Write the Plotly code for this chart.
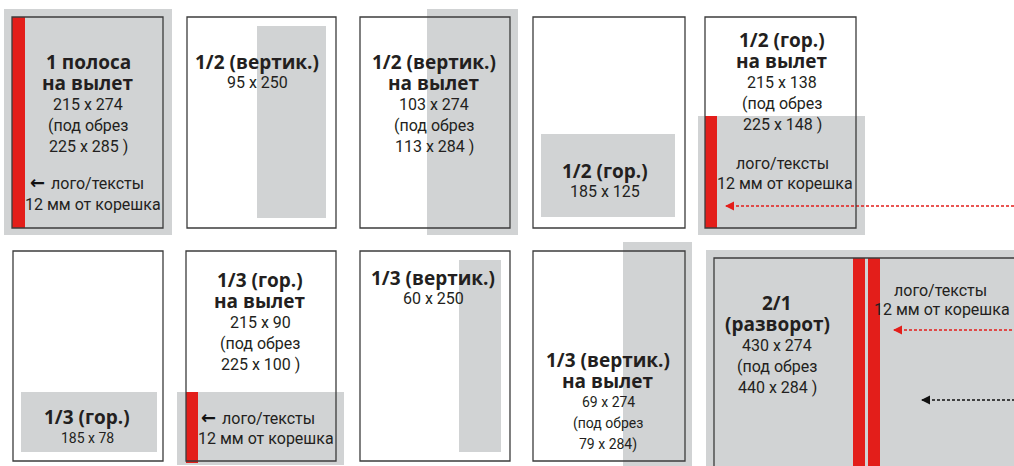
import plotly.graph_objects as go

W, H = 1014, 466
GRAY = "#d1d3d4"
RED = "#e31e1a"
LINE = "#3c3c3c"
TXT = "#231f20"
BOLD_FONT = "Open Sans, DejaVu Sans, sans-serif"
COND_FONT = "Roboto, Liberation Sans Narrow, sans-serif"
ARROW_FONT = "DejaVu Sans, sans-serif"

# ---- content (labels) ----
titles = [
    ["1 полоса", "на вылет"],
    ["1/2 (вертик.)"],
    ["1/2 (вертик.)", "на вылет"],
    ["1/2 (гор.)"],
    ["1/2 (гор.)", "на вылет"],
    ["1/3 (гор.)"],
    ["1/3 (гор.)", "на вылет"],
    ["1/3 (вертик.)"],
    ["1/3 (вертик.)", "на вылет"],
    ["2/1", "(разворот)"],
]
sizes = [
    ["215 x 274", "(под обрез", "225 x 285 )"],
    ["95 x 250"],
    ["103 x 274", "(под обрез", "113 x 284 )"],
    ["185 x 125"],
    ["215 x 138", "(под обрез", "225 x 148 )"],
    ["185 x 78"],
    ["215 x 90", "(под обрез", "225 x 100 )"],
    ["60 x 250"],
    ["69 x 274", "(под обрез", "79 x 284)"],
    ["430 x 274", "(под обрез", "440 x 284 )"],
]
spine_note = ["лого/тексты", "12 мм от корешка"]

# ---- layout geometry (pixels) ----
frames = [(12, 17, 163, 228), (187, 17, 336, 228), (360, 17, 510, 228),
          (533, 17, 685, 228), (705, 17, 856, 228),
          (13, 251, 163, 461), (186, 251, 336, 461), (360, 251, 510, 461),
          (533, 251, 685, 461), (714, 258, 1030, 480)]
grays = [(4, 9, 172, 235), (257, 26, 326, 218), (427, 9, 518, 235),
         (541, 134, 675, 217), (698, 116, 865, 235),
         (21, 392, 157, 452), (177, 392, 344, 465), (459, 260, 501, 452),
         (623, 242, 692, 470), (706, 250, 1020, 470)]
reds = [(12, 17, 25, 228), (705, 116, 717, 228), (186, 392, 198, 463),
        (853, 258, 865, 470), (868, 258, 880, 470)]
title_pos = [(88, 62), (257, 62), (434, 62), (605, 171), (782, 40),
             (87, 417), (260, 280), (433, 278), (608, 360), (777, 303)]
size_font = [16, 16, 16, 16, 16, 14, 16, 16, 14, 16]
# note lines: (x, y, xanchor)
note_pos = [((97, 183, "center"), (93, 204, "center")),
            ((782, 163, "center"), (785, 183, "center")),
            ((268, 418, "center"), (266, 438, "center")),
            ((940, 290, "center"), (1012, 309, "right"))]
arrow_pos = [(37, 182), (208, 417)]
dashed = [((722, 206), (1014, 206), RED), ((890, 330), (1014, 330), RED),
          ((918, 400), (1014, 400), "#111111")]

fig = go.Figure()
shapes = []
for x0, y0, x1, y1 in grays:
    shapes.append(dict(type="rect", x0=x0, y0=y0, x1=x1, y1=y1,
                       fillcolor=GRAY, line=dict(width=0), layer="below"))
for x0, y0, x1, y1 in reds:
    shapes.append(dict(type="rect", x0=x0, y0=y0, x1=x1, y1=y1,
                       fillcolor=RED, line=dict(width=0), layer="below"))
for x0, y0, x1, y1 in frames:
    shapes.append(dict(type="rect", x0=x0, y0=y0, x1=x1, y1=y1,
                       fillcolor="rgba(0,0,0,0)", line=dict(color=LINE, width=1.3),
                       layer="above"))

ann = []
STEP = 21
for i, (tl, sl) in enumerate(zip(titles, sizes)):
    cx, cy = title_pos[i]
    y = cy
    for t in tl:
        ann.append(dict(x=cx, y=y, text="<b>" + t + "</b>", showarrow=False,
                        font=dict(family=BOLD_FONT, size=19, color=TXT),
                        xanchor="center", yanchor="middle"))
        y += STEP
    if i in (1, 3, 7):
        y -= 1
    for s in sl:
        ann.append(dict(x=cx, y=y, text=s, showarrow=False,
                        font=dict(family=COND_FONT, size=size_font[i], color=TXT),
                        xanchor="center", yanchor="middle"))
        y += STEP

for p1, p2 in note_pos:
    for (x, y, xa), txt in zip((p1, p2), spine_note):
        ann.append(dict(x=x, y=y, text=txt, showarrow=False,
                        font=dict(family=COND_FONT, size=16, color=TXT),
                        xanchor=xa, yanchor="middle"))
for ax, ay in arrow_pos:
    ann.append(dict(x=ax, y=ay, text="<b>←</b>", showarrow=False,
                    font=dict(family=ARROW_FONT, size=18, color="#111111"),
                    xanchor="center", yanchor="middle"))

for (a, b, col) in dashed:
    fig.add_trace(go.Scatter(x=[a[0] + 4, b[0]], y=[a[1], b[1]], mode="lines",
                             line=dict(color=col, width=1.3, dash="3px,2px"),
                             hoverinfo="skip", showlegend=False))
    fig.add_trace(go.Scatter(x=[a[0] + 3], y=[a[1]], mode="markers",
                             marker=dict(symbol="arrow-left", size=9, color=col,
                                         line=dict(width=0)),
                             hoverinfo="skip", showlegend=False))

fig.update_layout(
    width=W, height=H, margin=dict(l=0, r=0, t=0, b=0),
    paper_bgcolor="white", plot_bgcolor="white",
    xaxis=dict(range=[0, W], visible=False, fixedrange=True),
    yaxis=dict(range=[H, 0], visible=False, fixedrange=True),
    shapes=shapes, annotations=ann, showlegend=False,
)
fig.write_html("out.html", config={"displayModeBar": False},
               post_script="document.body.style.margin='0';document.body.style.overflow='hidden';")
